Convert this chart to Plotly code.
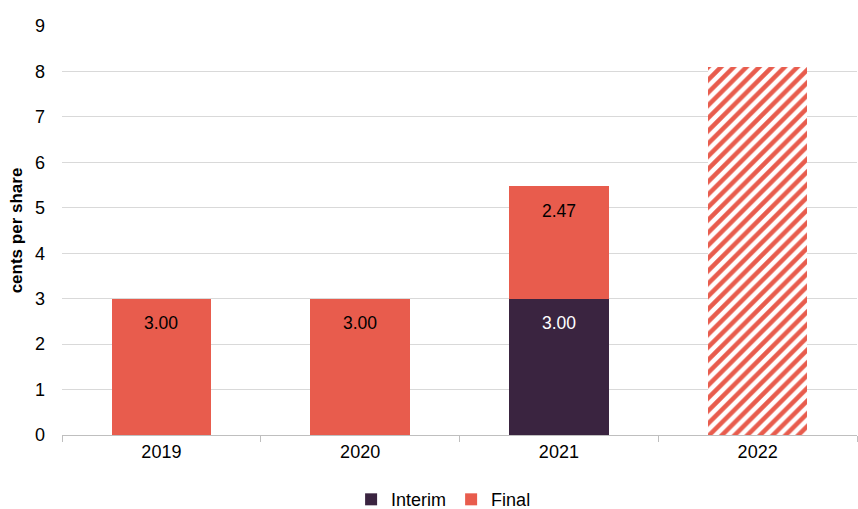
import plotly.graph_objects as go

years = ["2019", "2020", "2021", "2022"]
interim = [None, None, 3.00, None]
final = [3.00, 3.00, 2.47, 8.10]
interim_labels = ["", "", "3.00", ""]
final_labels = ["3.00", "3.00", "2.47", ""]

RED = "#E85C4D"
DARK = "#3A2440"
FONT = "Liberation Sans, Arial, sans-serif"

fig = go.Figure()
fig.add_trace(go.Bar(
    x=years, y=interim, name="Interim",
    marker=dict(color=DARK, line=dict(width=0)),
    width=0.5,
))
fig.add_trace(go.Bar(
    x=years, y=final, name="Final",
    marker=dict(
        color=RED, line=dict(width=0),
        pattern=dict(shape=["", "", "", "/"], fgcolor=RED, bgcolor="white",
                     fillmode="replace", size=9, solidity=0.5),
    ),
    width=0.5,
))

# value labels placed just below the top of each segment (x = category index)
for i, yr in enumerate(years):
    base = interim[i] or 0
    if interim_labels[i]:
        fig.add_annotation(x=i, y=base, text=interim_labels[i], showarrow=False,
                           yanchor="middle", yshift=-24.5,
                           font=dict(color="white", size=17.5, family=FONT))
    if final_labels[i]:
        fig.add_annotation(x=i, y=base + final[i], text=final_labels[i], showarrow=False,
                           yanchor="middle", yshift=-24.5,
                           font=dict(color="black", size=17.5, family=FONT))

fig.update_layout(
    width=858, height=519,
    barmode="stack",
    plot_bgcolor="white", paper_bgcolor="white",
    margin=dict(l=62, r=1, t=25.5, b=76),
    font=dict(family=FONT, size=18, color="black"),
    legend=dict(orientation="h", x=0.48, xanchor="center", y=-0.158, yanchor="middle",
                font=dict(size=18), itemwidth=30, traceorder="normal"),
)
fig.update_xaxes(
    type="category", range=[-0.5, 3.5], automargin=False,
    showline=True, linecolor="#BFBFBF", linewidth=1,
    ticks="outside", tickson="boundaries", ticklen=6, tickcolor="#BFBFBF",
    showgrid=False, tickfont=dict(size=18),
)
fig.update_yaxes(
    automargin=False,
    range=[0, 9], dtick=1, showgrid=True, gridcolor="#D9D9D9", gridwidth=1,
    zeroline=False, tickfont=dict(size=18), ticks="", ticklabelstandoff=16,
    title=dict(text="<b>cents per share</b>", font=dict(size=17), standoff=8),
)

fig.write_html(
    "out.html",
    config={"displayModeBar": False},
    post_script=(
        "document.documentElement.style.cssText='margin:0;padding:0;overflow:hidden;height:519px';"
        "document.body.style.cssText='margin:0;padding:0;overflow:hidden;height:519px';"
    ),
)
